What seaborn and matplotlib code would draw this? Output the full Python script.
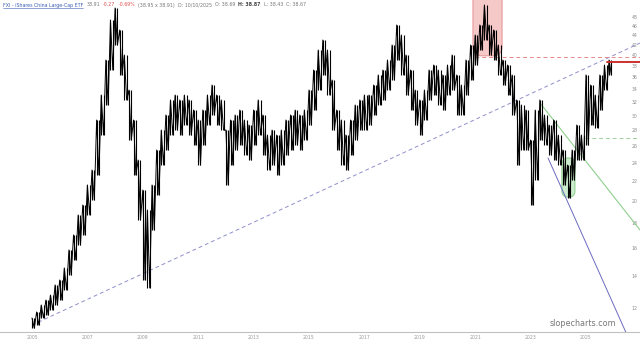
import numpy as np
import pandas as pd
import matplotlib
matplotlib.use("Agg")
import matplotlib.pyplot as plt
import seaborn as sns
from matplotlib.patches import FancyBboxPatch
from matplotlib.transforms import IdentityTransform

# ---------------- data ----------------
ticker_title = "FXI - iShares China Large-Cap ETF"
quote_parts = ["38.91", "-0.27", "-0.69%", "(38.95 x 38.91)", "D: 10/10/2025",
               "O: 38.69", "H: 38.87", "L: 38.43", "C: 38.67"]

# bimonthly samples starting Jan 2005
sample_dates = pd.date_range("2005-01-01", periods=126, freq="2MS")

highs = [11.45, 11.78, 12.18, 12.47, 12.77, 13.40, 13.72, 14.53, 15.83, 17.00,
         18.70, 19.61, 21.57, 23.16, 29.39, 33.11, 39.11, 47.32, 50.10, 45.12,
         40.06, 33.90, 29.39, 24.29, 21.06, 19.15, 21.57, 25.48, 28.02, 30.10,
         32.33, 33.11, 32.33, 33.11, 32.33, 30.82, 29.39, 30.82, 33.11, 34.72,
         33.11, 32.33, 28.02, 29.39, 30.10, 30.82, 29.39, 28.70, 30.82, 32.33,
         30.10, 27.36, 28.02, 27.36, 28.02, 29.39, 30.10, 30.82, 30.10, 30.82,
         33.90, 37.29, 41.02, 43.02, 41.02, 35.56, 30.82, 29.39, 27.36, 29.39,
         31.57, 32.33, 33.11, 33.11, 34.72, 36.42, 37.29, 39.11, 42.01, 46.21,
         44.06, 40.06, 37.29, 33.90, 32.33, 33.90, 37.29, 38.19, 37.29, 36.42,
         38.19, 40.06, 36.42, 34.72, 39.11, 42.01, 44.06, 46.21, 50.83, 46.21,
         45.12, 42.01, 39.11, 38.19, 36.42, 32.33, 31.57, 30.82, 26.72, 30.82,
         32.33, 30.10, 28.70, 29.39, 27.36, 25.48, 23.72, 25.48, 28.70, 27.36,
         36.42, 34.72, 33.11, 36.42, 38.19, 39.11]
lows = [10.91, 11.07, 11.45, 11.61, 11.89, 12.18, 12.47, 13.08, 14.05, 15.09,
        16.21, 17.00, 18.70, 20.08, 22.62, 27.36, 31.57, 37.29, 42.01, 36.42,
        32.33, 26.72, 22.62, 18.26, 13.72, 13.21, 17.41, 20.57, 23.72, 25.48,
        27.36, 28.02, 27.36, 28.70, 27.36, 26.09, 23.72, 26.09, 28.70, 30.10,
        28.70, 28.02, 21.57, 23.72, 25.48, 26.09, 24.88, 24.29, 26.09, 27.36,
        24.88, 23.16, 23.72, 22.62, 23.72, 24.88, 25.48, 26.09, 25.48, 26.72,
        28.70, 30.82, 33.90, 36.42, 33.11, 28.02, 25.48, 23.72, 23.16, 24.88,
        26.72, 28.02, 28.02, 28.70, 30.10, 31.57, 32.33, 33.90, 35.56, 39.11,
        36.42, 33.11, 30.82, 28.70, 27.36, 29.39, 32.33, 33.11, 31.57, 30.82,
        33.11, 33.90, 30.10, 30.10, 33.11, 35.56, 38.19, 41.02, 43.02, 40.06,
        39.11, 36.42, 34.72, 33.11, 30.10, 23.72, 25.48, 25.48, 19.61, 22.09,
        26.72, 26.09, 24.88, 24.29, 23.72, 21.57, 20.28, 22.09, 24.29, 24.29,
        26.09, 28.70, 28.30, 30.82, 33.90, 36.42]

year_ticks = [2005, 2007, 2009, 2011, 2013, 2015, 2017, 2019, 2021, 2023, 2025]
price_ticks = [12, 14, 16, 18, 20, 22, 24, 26, 28, 30, 32, 34, 36, 38, 40, 42, 44, 46, 48]

# drawn annotations (date, price)
long_trend = [(2005.0, 11.07), (2026.95, 42.4)]
green_trend = [(2023.34, 31.88), (2026.95, 17.41)]
blue_trend = [(2023.63, 24.53), (2026.6, 10.2)]
red_level = (2020.99, 39.68)
red_now = (2025.76, 38.75)
green_level = (2024.96, 26.98)
red_box = (2020.92, 2021.97, 39.9, 60.0)
green_box = (2024.13, 2024.60, 20.37, 24.53)

# ---------------- figure ----------------
sns.set_theme(style="white")
plt.rcParams["font.family"] = ["DejaVu Sans"]

W, H = 640, 343
fig = plt.figure(figsize=(W / 100, H / 100), dpi=100)
ax = fig.add_axes([0, 11 / H, 1, 332 / H])
ax.set_facecolor("white")

t = np.asarray(sample_dates.year + (sample_dates.month - 1) / 12.0)
half = 1 / 12.0
rows_t, rows_p = [], []
for ti, h, l in zip(t, highs, lows):
    rows_t += [ti, ti + half]
    rows_p += [h, l]
df = pd.DataFrame({"t": rows_t, "price": rows_p})

ax.set_yscale("log")
ax.set_xlim(2003.845, 2026.95)
ax.set_ylim(10.71, 52.05)

# range bars (high-low) for each sample, plus a zig-zag through them
bars_t = np.concatenate([t, t + half])
bars_hi = np.concatenate([highs, highs])
bars_lo = np.concatenate([lows, lows])
ax.vlines(bars_t, bars_lo, bars_hi, color="black", lw=0.8, zorder=5)
sns.lineplot(data=df, x="t", y="price", sort=False, estimator=None,
             color="black", lw=0.7, ax=ax, zorder=5)

x_end = 2026.95
ax.plot([p[0] for p in long_trend], [p[1] for p in long_trend],
        color="#8f8fcc", lw=0.7, dashes=(4, 3), zorder=4)
ax.plot([red_level[0], x_end], [red_level[1]] * 2, color="#e88a8a", lw=0.7,
        dashes=(4, 3), zorder=4)
ax.plot([green_level[0], x_end], [green_level[1]] * 2, color="#9ccf9c", lw=0.7,
        dashes=(4, 3), zorder=4)
ax.plot([p[0] for p in green_trend], [p[1] for p in green_trend],
        color="#8fcf8f", lw=0.8, zorder=4)
ax.plot([p[0] for p in blue_trend], [p[1] for p in blue_trend],
        color="#6a6ac0", lw=0.7, zorder=4)
ax.plot([red_now[0], x_end], [red_now[1]] * 2, color="#cc2f2f", lw=1.4, zorder=6)


def add_round_box(box, fc, ec, r):
    t0, t1, v0, v1 = box
    (x0, y0) = ax.transData.transform((t0, v0))
    (x1, y1) = ax.transData.transform((t1, v1))
    p = FancyBboxPatch((x0, y0), x1 - x0, y1 - y0,
                       boxstyle=f"round,pad=0,rounding_size={r}",
                       transform=IdentityTransform(), fc=fc, ec=ec, lw=0.8,
                       zorder=3)
    ax.add_patch(p)


add_round_box(red_box, "#f6c9c9", "#e89a9a", 9)
add_round_box(green_box, "#cdeccd", "#8fd08f", 6)

# axes styling
for s in ["top", "left", "right"]:
    ax.spines[s].set_visible(False)
ax.spines["bottom"].set_color("#c0c0c0")
ax.spines["bottom"].set_linewidth(0.8)
ax.set_xlabel("")
ax.set_ylabel("")
ax.set_xticks(year_ticks)
ax.set_xticklabels([str(y) for y in year_ticks])
ax.yaxis.tick_right()
ax.set_yticks(price_ticks)
ax.set_yticklabels([str(v) for v in price_ticks])
ax.yaxis.set_minor_locator(matplotlib.ticker.NullLocator())
ax.tick_params(axis="x", length=0, pad=2.5, labelsize=3.3, colors="#9a9a9a")
ax.tick_params(axis="y", length=0, pad=-6.0, labelsize=3.3, colors="#8a8a8a")
for lab in ax.get_yticklabels():
    lab.set_zorder(7)

ax.text(0.9625, 0.012, "slopecharts.com", transform=ax.transAxes,
        ha="right", va="bottom", fontsize=5.8, color="#777777", zorder=8)

# title line
colors = ["#777777", "#e05050", "#e05050", "#777777", "#777777",
          "#777777", "#444444", "#777777", "#777777"]
weights = ["normal"] * 6 + ["bold", "normal", "normal"]
t0 = fig.text(3 / W, 1 - 6.5 / H, ticker_title, fontsize=3.4, color="#3a5db5",
              va="baseline", ha="left")
prev = t0
for txt, c, w in zip(quote_parts, colors, weights):
    prev = ax.annotate(txt, xy=(1, 0), xycoords=prev, xytext=(2.2, 0),
                       textcoords="offset points", fontsize=3.4, color=c,
                       fontweight=w, va="bottom", ha="left",
                       annotation_clip=False)

fig.canvas.draw()
bb = t0.get_window_extent()
fig.add_artist(plt.Line2D([bb.x0, bb.x1], [bb.y0 - 0.3, bb.y0 - 0.3],
                          transform=IdentityTransform(), color="#3a5db5", lw=0.4))

fig.savefig("out.png", dpi=100)
